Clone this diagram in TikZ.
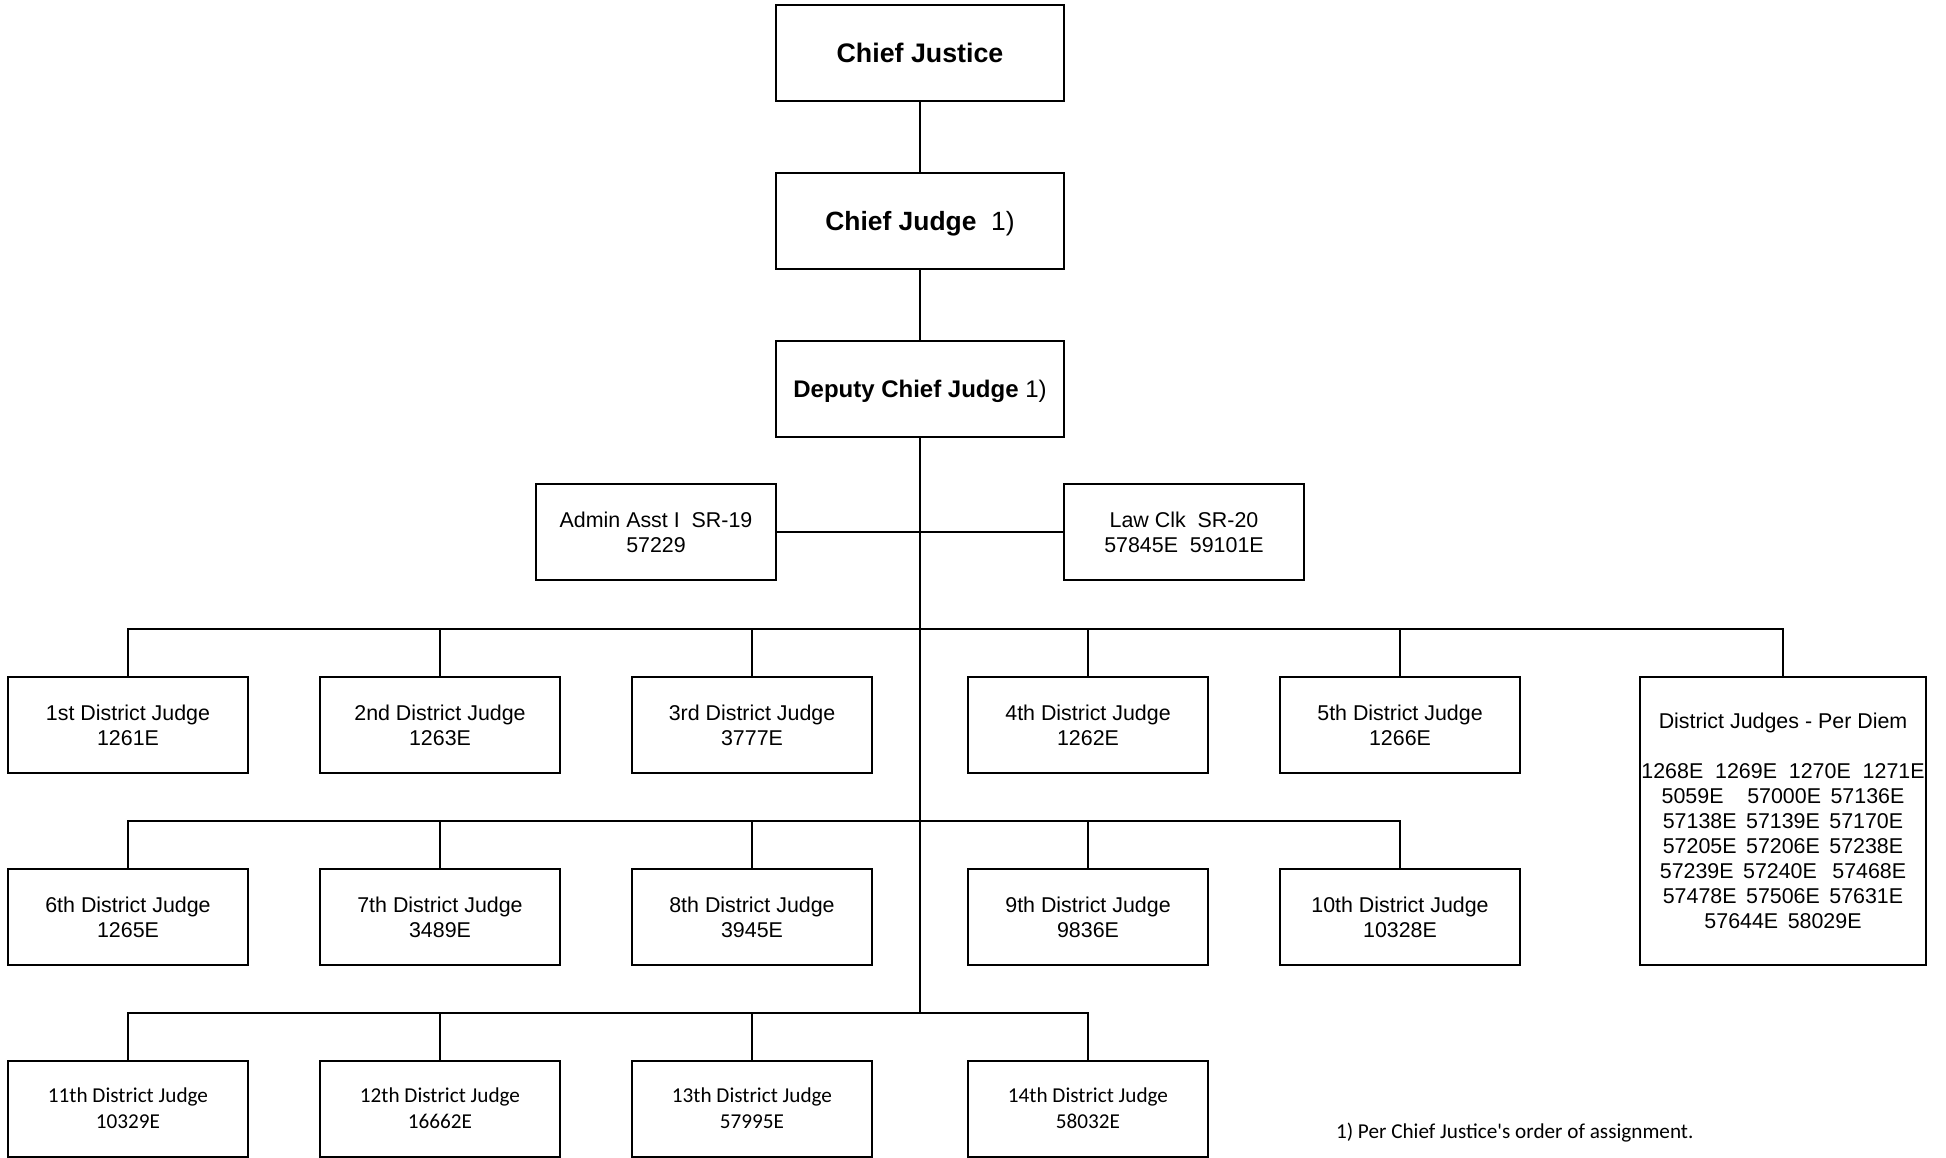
\documentclass[tikz,border=0pt]{standalone}
\usepackage{fontspec}
\setmainfont{Liberation Sans}
\newfontfamily\calib{Carlito}
\begin{document}
\begin{tikzpicture}[x=0.5pt,y=-0.5pt,line width=1pt,
  box/.style={draw,line width=1pt,inner sep=0pt,minimum width=120pt,minimum height=48pt,align=center,font=\fontsize{10.7}{12.5}\selectfont},
  topbox/.style={box,minimum width=144pt,text depth=0pt},
  cbox/.style={box,font=\calib\fontsize{10.6}{13}\selectfont},
  conn/.style={draw,line width=1pt}]
\useasboundingbox (0,0) rectangle (1946,1157);
% top chain
\node[topbox,font=\fontsize{13.4}{15}\selectfont] (cj) at (920,53) {\textbf{Chief Justice}};
\node[topbox,font=\fontsize{13.2}{15}\selectfont] (cjg) at (920,220.5) {\textbf{Chief Judge}~~1)};
\node[topbox,font=\fontsize{12}{14}\selectfont] (dcj) at (920,388.5) {\textbf{Deputy Chief Judge} 1)};
\node[box] (admin) at (656,532) {Admin Asst I~~SR-19\\57229};
\node[box] (law) at (1184,532) {Law Clk~~SR-20\\57845E~~59101E};
% row 1
\node[box] (j1) at (128,725) {1st District Judge\\1261E};
\node[box] (j2) at (440,725) {2nd District Judge\\1263E};
\node[box] (j3) at (752,725) {3rd District Judge\\3777E};
\node[box] (j4) at (1088,725) {4th District Judge\\1262E};
\node[box] (j5) at (1400,725) {5th District Judge\\1266E};
\node[box,minimum width=143pt,minimum height=144pt] (pd) at (1783,821) {District Judges - Per Diem\\[12.5pt]
1268E~~1269E~~1270E~~1271E\\
5059E~~~~57000E~\,57136E\\
57138E~\,57139E~\,57170E\\
57205E~\,57206E~\,57238E\\
57239E~\,57240E~~\,57468E\\
57478E~\,57506E~\,57631E\\
57644E~\,58029E};
% row 2
\node[box] (j6) at (128,917) {6th District Judge\\1265E};
\node[box] (j7) at (440,917) {7th District Judge\\3489E};
\node[box] (j8) at (752,917) {8th District Judge\\3945E};
\node[box] (j9) at (1088,917) {9th District Judge\\9836E};
\node[box] (j10) at (1400,917) {10th District Judge\\10328E};
% row 3
\node[cbox] (j11) at (128,1108.5) {11th District Judge\\10329E};
\node[cbox] (j12) at (440,1108.5) {12th District Judge\\16662E};
\node[cbox] (j13) at (752,1108.5) {13th District Judge\\57995E};
\node[cbox] (j14) at (1088,1108.5) {14th District Judge\\58032E};
% footnote
\node[anchor=west,inner sep=0pt,font=\calib\fontsize{10.6}{13}\selectfont] (fn) at (1335,1133) {1) Per Chief Justice's order of assignment.};
% bus coordinates
\coordinate (b1) at (920,629);
\coordinate (b2) at (920,820.5);
\coordinate (b3) at (920,1013);
% connectors
\draw[conn] (cj) -- (cjg);
\draw[conn] (cjg) -- (dcj);
\draw[conn] (dcj.south) -- (b3);
\draw[conn] (admin.east) -- (law.west);
\draw[conn] (j1.north) |- (b1) -| (pd.north);
\draw[conn] (j2.north) -- (j2.north |- b1);
\draw[conn] (j3.north) -- (j3.north |- b1);
\draw[conn] (j4.north) -- (j4.north |- b1);
\draw[conn] (j5.north) -- (j5.north |- b1);
\draw[conn] (j6.north) |- (b2) -| (j10.north);
\draw[conn] (j7.north) -- (j7.north |- b2);
\draw[conn] (j8.north) -- (j8.north |- b2);
\draw[conn] (j9.north) -- (j9.north |- b2);
\draw[conn] (j11.north) |- (b3) -| (j14.north);
\draw[conn] (j12.north) -- (j12.north |- b3);
\draw[conn] (j13.north) -- (j13.north |- b3);
\end{tikzpicture}
\end{document}
